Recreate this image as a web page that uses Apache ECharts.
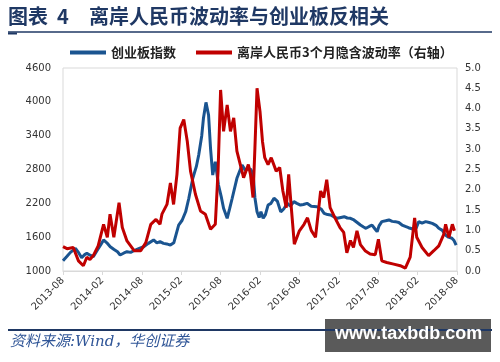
<!DOCTYPE html>
<html><head><meta charset="utf-8">
<script src="https://cdn.jsdelivr.net/npm/echarts@6/dist/echarts.min.js"></script>
<style>html,body{margin:0;padding:0;background:#fff}#c{width:500px;height:362px}</style>
</head><body><div id="c"></div>
<script>
var seriesNames = ['创业板指数', '离岸人民币3个月隐含波动率（右轴）'];
var leftTicks = [1000, 1600, 2200, 2800, 3400, 4000, 4600];
var rightTicks = [0, 0.5, 1, 1.5, 2, 2.5, 3, 3.5, 4, 4.5, 5];
var xTickLabels = ['2013-08','2014-02','2014-08','2015-02','2015-08','2016-02','2016-08','2017-02','2017-08','2018-02','2018-08'];

var blueDates = ['2013-08-01','2013-08-20','2013-09-05','2013-09-28','2013-10-10','2013-10-27','2013-11-10','2013-11-20','2013-12-05','2013-12-20','2014-01-10','2014-01-25','2014-02-06','2014-02-20','2014-03-07','2014-03-25','2014-04-10','2014-04-22','2014-05-10','2014-05-24','2014-06-10','2014-07-01','2014-07-20','2014-08-10','2014-09-01','2014-09-25','2014-10-10','2014-10-25','2014-11-10','2014-11-25','2014-12-12','2014-12-28','2015-01-20','2015-02-05','2015-02-20','2015-03-06','2015-03-25','2015-04-10','2015-04-21','2015-05-05','2015-05-13','2015-05-25','2015-06-06','2015-06-15','2015-06-25','2015-07-07','2015-07-22','2015-08-05','2015-08-15','2015-09-01','2015-09-12','2015-09-24','2015-10-16','2015-11-09','2015-11-25','2015-12-04','2015-12-20','2015-12-31','2016-01-08','2016-01-18','2016-01-28','2016-02-05','2016-02-15','2016-02-25','2016-03-08','2016-03-22','2016-04-05','2016-04-20','2016-05-06','2016-05-20','2016-06-06','2016-06-20','2016-07-06','2016-07-20','2016-08-06','2016-08-20','2016-09-06','2016-09-25','2016-10-22','2016-11-10','2016-11-24','2016-12-10','2016-12-24','2017-01-10','2017-01-24','2017-02-10','2017-02-24','2017-03-10','2017-03-25','2017-04-10','2017-04-25','2017-05-10','2017-05-25','2017-06-05','2017-06-20','2017-07-03','2017-07-18','2017-07-27','2017-08-05','2017-08-18','2017-09-05','2017-09-20','2017-10-05','2017-10-20','2017-11-05','2017-11-20','2017-12-05','2017-12-20','2018-01-05','2018-01-15','2018-01-25','2018-02-06','2018-02-20','2018-03-08','2018-03-25','2018-04-08','2018-04-25','2018-05-08','2018-05-25','2018-06-08','2018-06-22','2018-07-08','2018-07-18','2018-07-28'];
var blueValues = [1180,1260,1330,1400,1340,1236,1290,1313,1280,1254,1380,1470,1550,1500,1430,1380,1340,1284,1320,1342,1330,1372,1400,1430,1490,1550,1500,1520,1490,1480,1460,1500,1815,1900,2050,2290,2650,2850,3057,3400,3707,3990,3766,3175,2702,2938,2525,2300,2112,1934,2100,2290,2644,2880,2780,2820,2800,2700,2300,2050,1950,2050,1934,2000,2170,2200,2290,2240,2050,2100,2200,2150,2230,2200,2170,2180,2200,2150,2140,2100,2023,2000,1993,1960,1934,1950,1963,1940,1934,1905,1860,1815,1780,1757,1790,1815,1740,1697,1800,1875,1890,1905,1880,1875,1860,1815,1790,1768,1750,1727,1760,1875,1850,1875,1860,1845,1810,1757,1720,1638,1600,1580,1540,1460];

var redDates = ['2013-08-01','2013-08-20','2013-09-18','2013-10-12','2013-11-04','2013-11-20','2013-12-04','2013-12-20','2014-01-12','2014-02-06','2014-02-22','2014-03-06','2014-03-24','2014-04-17','2014-05-02','2014-05-24','2014-06-26','2014-07-27','2014-08-20','2014-09-12','2014-10-06','2014-10-25','2014-11-03','2014-11-26','2014-12-12','2014-12-27','2015-01-12','2015-01-27','2015-02-12','2015-02-27','2015-03-14','2015-04-06','2015-04-29','2015-05-22','2015-06-15','2015-07-07','2015-07-20','2015-08-01','2015-08-15','2015-09-01','2015-09-16','2015-10-01','2015-10-16','2015-11-01','2015-11-16','2015-12-08','2015-12-18','2015-12-30','2016-01-08','2016-01-18','2016-02-01','2016-02-12','2016-02-22','2016-03-08','2016-03-23','2016-04-15','2016-05-01','2016-05-16','2016-06-01','2016-06-12','2016-06-24','2016-07-08','2016-08-01','2016-08-23','2016-09-08','2016-09-25','2016-10-15','2016-11-08','2016-11-22','2016-12-06','2016-12-22','2017-01-14','2017-02-06','2017-02-22','2017-03-08','2017-03-25','2017-04-08','2017-04-24','2017-05-10','2017-06-01','2017-06-24','2017-07-18','2017-08-02','2017-08-18','2017-09-10','2017-10-12','2017-11-12','2017-12-05','2017-12-28','2018-01-18','2018-01-28','2018-02-20','2018-03-22','2018-04-15','2018-05-08','2018-06-01','2018-06-09','2018-06-24','2018-07-10','2018-07-20'];
var redValues = [0.60,0.55,0.58,0.25,0.13,0.34,0.28,0.38,0.62,1.15,0.83,1.40,0.83,1.68,1.07,0.74,0.50,0.50,0.70,1.15,1.27,1.15,1.40,1.64,2.17,1.64,2.38,3.52,3.73,3.19,2.46,1.89,1.48,1.40,1.03,1.15,2.46,4.46,3.44,4.09,3.44,3.77,2.95,2.62,2.30,2.62,2.38,1.81,3.03,4.50,3.93,3.19,2.79,2.62,2.79,2.46,2.55,1.97,1.56,2.38,1.56,0.66,0.99,1.15,1.31,1.00,0.83,1.97,1.81,2.25,1.56,1.31,1.07,0.95,0.45,0.75,0.58,0.99,0.65,0.50,0.42,0.40,0.78,0.25,0.21,0.17,0.13,0.07,0.34,1.31,0.83,0.58,0.38,0.50,0.62,0.91,1.15,0.83,1.15,0.99];

function monthOffset(s) {
  var p = s.split('-').map(Number);
  var dim = new Date(p[0], p[1], 0).getDate();
  return (p[0] - 2013) * 12 + (p[1] - 8) + (p[2] - 1) / dim;
}
function pairs(dates, vals) { return dates.map(function (d, i) { return [monthOffset(d), vals[i]]; }); }

var navy = '#1f3864';
var chart = echarts.init(document.getElementById('c'));
chart.setOption({
  animation: false,
  backgroundColor: '#fff',
  grid: { left: 63, right: 43, top: 68, bottom: 91, show: true, borderColor: '#d9d9d9', borderWidth: 1 },
  legend: {
    left: 65, top: 41, itemWidth: 36, itemHeight: 4, itemGap: 20, icon: 'rect',
    textStyle: { fontSize: 13, fontWeight: 'bold', color: '#222', fontFamily: 'Noto Sans CJK SC' },
    data: seriesNames
  },
  xAxis: {
    type: 'value', min: 0, max: 60, interval: 6,
    splitLine: { show: false },
    axisLine: { show: true, lineStyle: { color: '#d9d9d9' } },
    axisTick: { show: true, length: 4, lineStyle: { color: '#d9d9d9' } },
    axisLabel: {
      rotate: 45, fontSize: 10, color: '#333', fontFamily: 'DejaVu Sans', margin: 8,
      formatter: function (v) { return xTickLabels[Math.round(v / 6)] || ''; }
    }
  },
  yAxis: [{
    type: 'value', min: leftTicks[0], max: leftTicks[leftTicks.length - 1], interval: 600,
    splitLine: { show: false }, axisLine: { show: false }, axisTick: { show: false },
    axisLabel: { fontSize: 10, color: '#333', fontFamily: 'DejaVu Sans', margin: 12,
      formatter: function (v) { return String(Math.round(v)); } }
  }, {
    type: 'value', min: rightTicks[0], max: rightTicks[rightTicks.length - 1], interval: 0.5,
    splitLine: { show: false }, axisLine: { show: false }, axisTick: { show: false },
    axisLabel: { fontSize: 10, color: '#333', fontFamily: 'DejaVu Sans', margin: 8,
      formatter: function (v) { return v.toFixed(1); } }
  }],
  series: [{
    name: seriesNames[0], type: 'line', yAxisIndex: 0, showSymbol: false, symbol: 'none',
    data: pairs(blueDates, blueValues), lineStyle: { color: '#1a5490', width: 3 }, itemStyle: { color: '#1a5490' }, z: 2
  }, {
    name: seriesNames[1], type: 'line', yAxisIndex: 1, showSymbol: false, symbol: 'none',
    data: pairs(redDates, redValues), lineStyle: { color: '#c00000', width: 3 }, itemStyle: { color: '#c00000' }, z: 3
  }],
  graphic: [
    { type: 'text', left: 8, top: 6, style: { text: '图表', fontSize: 20, fontWeight: 'bold', fill: navy, fontFamily: 'Noto Sans CJK SC' } },
    { type: 'text', left: 57, top: 6, style: { text: '4', fontSize: 20, fontWeight: 'bold', fill: navy, fontFamily: 'Noto Sans CJK SC' } },
    { type: 'text', left: 89, top: 6, style: { text: '离岸人民币波动率与创业板反相关', fontSize: 20, fontWeight: 'bold', fill: navy, fontFamily: 'Noto Sans CJK SC' } },
    { type: 'line', shape: { x1: 8, y1: 32, x2: 492, y2: 32 }, style: { stroke: navy, lineWidth: 1.5 } },
    { type: 'line', shape: { x1: 8, y1: 33.5, x2: 17, y2: 33.5 }, style: { stroke: navy, lineWidth: 2 } },
    { type: 'rect', shape: { x: 325, y: 319, width: 166, height: 33 }, style: { fill: '#5a5a5a' } },
    { type: 'line', shape: { x1: 8, y1: 330, x2: 492, y2: 330 }, style: { stroke: navy, lineWidth: 2 } },
    { type: 'text', left: 10, top: 335, style: { text: '资料来源:Wind，华创证券', fontSize: 15, fontStyle: 'italic', fill: '#2f5597', fontFamily: 'DejaVu Serif, Noto Sans CJK SC' } },
    { type: 'text', left: 335, top: 325, style: { text: 'www.taxbdb.com', fontSize: 18, fontWeight: 'bold', fill: '#fff', fontFamily: 'Liberation Sans' } }
  ]
});
</script></body></html>
